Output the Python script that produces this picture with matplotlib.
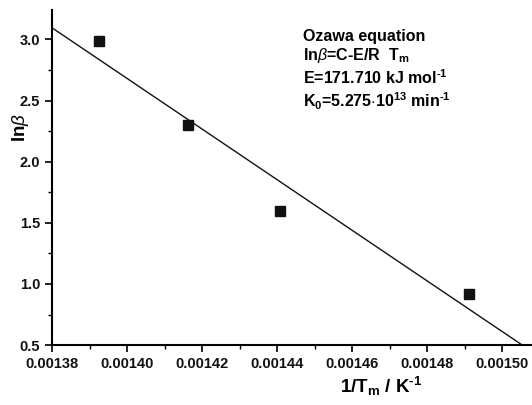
import numpy as np
import matplotlib
matplotlib.use("Agg")
import matplotlib.pyplot as plt
from matplotlib.ticker import MultipleLocator

# data
inv_tm = [0.0013925, 0.0014163, 0.0014408, 0.0014912]
ln_beta = [2.99, 2.30, 1.60, 0.92]

x_ticks = [0.00138, 0.00140, 0.00142, 0.00144, 0.00146, 0.00148, 0.00150]
y_ticks = [0.5, 1.0, 1.5, 2.0, 2.5, 3.0]

plt.rcParams["font.family"] = ["Liberation Sans", "DejaVu Sans"]
plt.rcParams["mathtext.fontset"] = "custom"
plt.rcParams["mathtext.rm"] = "Liberation Sans:bold"
plt.rcParams["mathtext.it"] = "Liberation Sans:italic"
plt.rcParams["mathtext.bf"] = "Liberation Sans:bold"
plt.rcParams["axes.unicode_minus"] = False

fig = plt.figure(figsize=(5.32, 4.05), dpi=100)
ax = fig.add_axes([0.098, 0.148, 0.902, 0.827])

ax.plot(inv_tm, ln_beta, "s", color="#111111", ms=6.5)

# linear fit (Ozawa)
slope, icpt = np.polyfit(inv_tm, ln_beta, 1)
xl = np.array([0.00138, 0.00151])
ax.plot(xl, slope * xl + icpt, color="#111111", lw=1.0)

ax.set_xlim(0.00138, 0.001508)
ax.set_ylim(0.5, 3.24)
ax.set_xticks(x_ticks)
ax.set_xticklabels([f"{v:.5f}" for v in x_ticks], fontweight="bold")
ax.set_yticks(y_ticks)
ax.set_yticklabels([f"{v:.1f}" for v in y_ticks], fontweight="bold")
ax.xaxis.set_minor_locator(MultipleLocator(0.00001))
ax.yaxis.set_minor_locator(MultipleLocator(0.25))

ax.spines[["top", "right"]].set_visible(False)
for s in ["left", "bottom"]:
    ax.spines[s].set_linewidth(1.5)
ax.tick_params(which="major", direction="out", length=5, width=1.3,
               labelsize=10.5, colors="#111111")
ax.tick_params(which="minor", direction="out", length=3, width=1.0)

ax.set_xlabel(r"1/T$_\mathrm{m}$ / K$^\text{-1}$", fontsize=13.5,
              fontweight="bold")
ax.xaxis.set_label_coords(0.685, -0.09)
ax.set_ylabel(r"ln$\beta$", fontsize=13.5, fontweight="bold")
ax.yaxis.set_label_coords(-0.045, 0.648)

txt = ("Ozawa equation\n"
       r"ln$\beta$=C-E/R  T$_\mathrm{m}$" "\n"
       r"E=171.710 kJ mol$^\text{-1}$" "\n"
       r"K$_\mathrm{0}$=5.275$\cdot$10$^\mathrm{13}$ min$^\text{-1}$")
ax.text(0.523, 0.945, txt, transform=ax.transAxes, fontsize=11.5,
        fontweight="bold", va="top", ha="left", linespacing=1.2)

fig.savefig("out.png", dpi=100)
